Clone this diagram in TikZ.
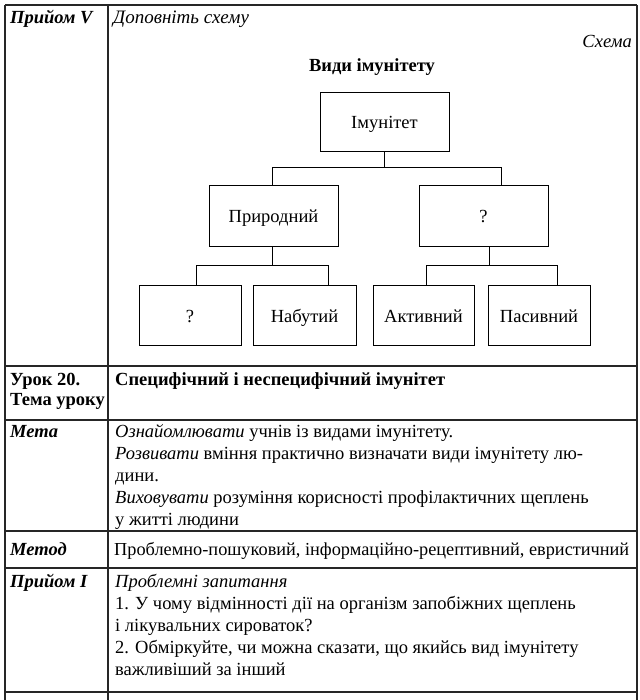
\documentclass[tikz,border=0pt]{standalone}
\usepackage{fontspec}
\setmainfont{Liberation Serif}
\newcommand\myfs{\fontsize{18.5}{22}\selectfont}
\begin{document}
\begin{tikzpicture}[x=1pt,y=-1pt,
  tline/.style={line width=1.2pt, black!85},
  box/.style={draw, line width=0.9pt, minimum width=#1, minimum height=60pt, inner sep=0pt, text height=17pt, text depth=3pt, font=\myfs},
  conn/.style={line width=0.9pt},
  txt/.style={anchor=base west, inner sep=0pt, font=\myfs},
  lbl/.style={anchor=base west, inner sep=0pt, font=\myfs\bfseries},
  lbli/.style={anchor=base west, inner sep=0pt, font=\myfs\bfseries\itshape}]
\useasboundingbox (0,0) rectangle (639,700);
% table grid
\draw[tline, line width=1.5pt] (5,5) -- (637,5);
\draw[tline] (5,5) -- (5,700);
\draw[tline] (108,5) -- (108,700);
\draw[tline] (637,5) -- (637,700);
\foreach \yy in {366,420,531,568,692} \draw[tline] (5,\yy) -- (637,\yy);
% row 1
\node[lbli] (p5) at (10,24) {Прийом V};
\node[txt, font=\fontsize{19}{22}\selectfont\itshape] (dop) at (113,24) {Доповніть схему};
\node[anchor=base east, inner sep=0pt, font=\myfs\itshape] (sch) at (632,48) {Схема};
\node[anchor=base, inner sep=0pt, font=\myfs\bfseries] (vid) at (372,72) {Види імунітету};
% scheme
\node[box=129pt, minimum height=59pt] (imm) at (384.5,121.5) {Імунітет};
\node[box=129pt, minimum height=61pt] (nat) at (273.5,215.5) {Природний};
\node[box=129pt, minimum height=61pt] (acq) at (483.5,215.5) {?};
\node[box=102pt] (q1) at (190,315) {?};
\node[box=103pt] (nab) at (304.5,315) {Набутий};
\node[box=101pt] (act) at (423.5,315) {Активний};
\node[box=102pt] (pas) at (539,315) {Пасивний};
\draw[conn] (imm.south) -- ++(0,16) coordinate (j1);
\draw[conn] ([xshift=-1.5pt]nat.north) |- (j1) -| ([xshift=17.5pt]acq.north);
\draw[conn] ([xshift=-1.5pt]nat.south) -- ++(0,19) coordinate (j2);
\draw[conn] ([xshift=6pt]q1.north) |- (j2) -| ([xshift=23.5pt]nab.north);
\draw[conn] ([xshift=5.5pt]acq.south) -- ++(0,19) coordinate (j3);
\draw[conn] ([xshift=2.5pt]act.north) |- (j3) -| ([xshift=18pt]pas.north);
% row 2
\node[lbl] (u20) at (10,385) {Урок 20.};
\node[lbl] (tema) at (10,405) {Тема уроку};
\node[lbl] (spec) at (115,385) {Специфічний і неспецифічний імунітет};
% row 3
\node[lbli] (meta) at (10,437) {Мета};
\node[txt] (m1) at (115,437) {\textit{Ознайомлювати} учнів із видами імунітету.};
\node[txt] (m2) at (115,459) {\textit{Розвивати} вміння практично визначати види імунітету лю-};
\node[txt] (m3) at (115,481) {дини.};
\node[txt] (m4) at (115,503) {\textit{Виховувати} розуміння корисності профілактичних щеплень};
\node[txt] (m5) at (115,525) {у житті людини};
% row 4
\node[lbli] (met) at (10,555) {Метод};
\node[txt, font=\fontsize{18.3}{22}\selectfont] (mt) at (114,555) {Проблемно-пошуковий, інформаційно-рецептивний, евристичний};
% row 5
\node[lbli] (p1) at (10,587) {Прийом I};
\node[txt, font=\myfs\itshape] (q0) at (115,587) {Проблемні запитання};
\node[txt] (qa) at (115,609) {1. У чому відмінності дії на організм запобіжних щеплень};
\node[txt] (qb) at (115,631) {і лікувальних сироваток?};
\node[txt] (qc) at (115,653) {2. Обміркуйте, чи можна сказати, що якийсь вид імунітету};
\node[txt] (qd) at (115,675) {важливіший за інший};
\end{tikzpicture}
\end{document}
